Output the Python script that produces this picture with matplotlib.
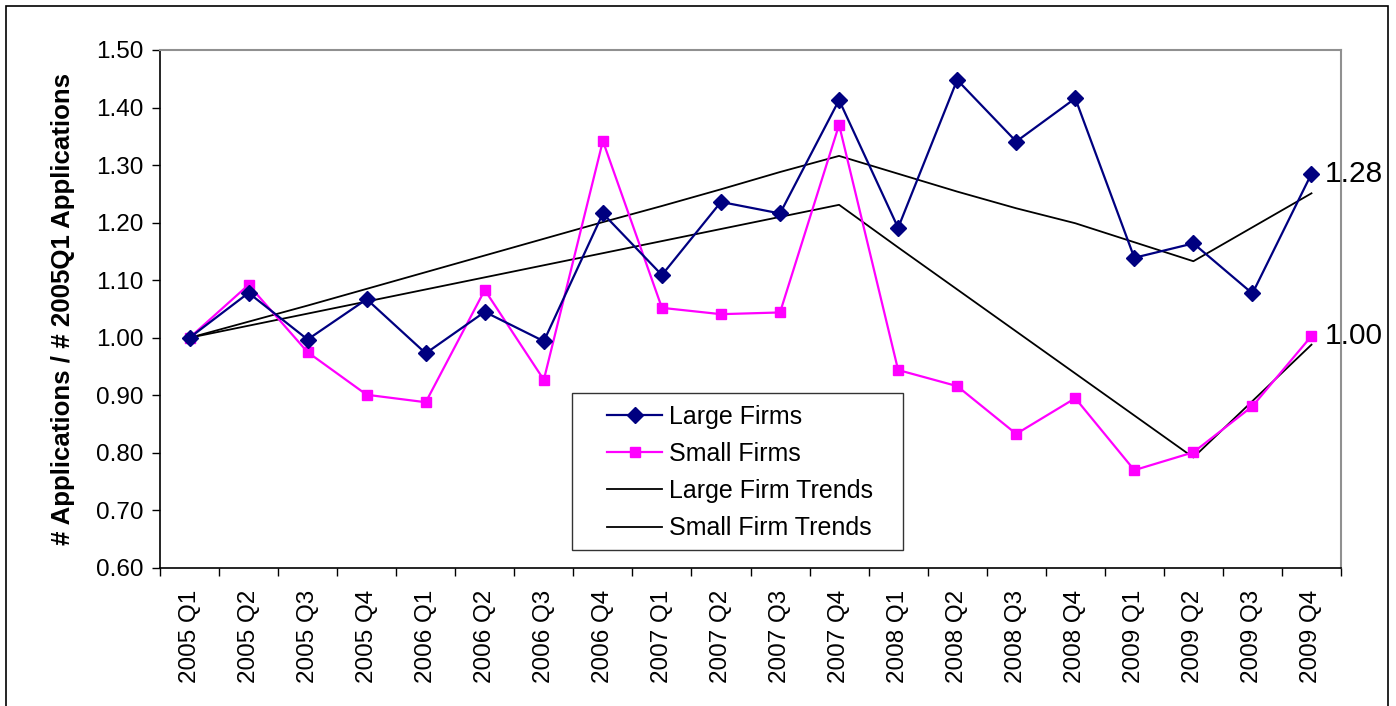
import matplotlib
matplotlib.use("Agg")
import matplotlib.pyplot as plt
from matplotlib.patches import Rectangle
from matplotlib.ticker import FixedLocator, NullFormatter

plt.rcParams['font.family'] = ['Liberation Sans', 'DejaVu Sans']

quarters = ["2005 Q1", "2005 Q2", "2005 Q3", "2005 Q4",
            "2006 Q1", "2006 Q2", "2006 Q3", "2006 Q4",
            "2007 Q1", "2007 Q2", "2007 Q3", "2007 Q4",
            "2008 Q1", "2008 Q2", "2008 Q3", "2008 Q4",
            "2009 Q1", "2009 Q2", "2009 Q3", "2009 Q4"]

large_firms = [1.000, 1.078, 0.997, 1.067, 0.973, 1.045, 0.994, 1.216,
               1.109, 1.236, 1.216, 1.413, 1.191, 1.448, 1.341, 1.416,
               1.139, 1.164, 1.077, 1.285]
small_firms = [1.000, 1.092, 0.975, 0.901, 0.888, 1.083, 0.927, 1.342,
               1.052, 1.041, 1.044, 1.370, 0.944, 0.916, 0.833, 0.895,
               0.770, 0.801, 0.881, 1.003]
large_trend = [1.000, 1.028, 1.056, 1.085, 1.114, 1.143, 1.172, 1.201,
               1.229, 1.258, 1.288, 1.316, 1.285, 1.254, 1.225, 1.199,
               1.166, 1.133, 1.192, 1.251]
small_trend = [1.000, 1.021, 1.042, 1.063, 1.084, 1.105, 1.126, 1.147,
               1.168, 1.189, 1.210, 1.231, 1.157, 1.084, 1.011, 0.938,
               0.865, 0.792, 0.890, 0.988]

end_labels = ["1.28", "1.00"]

W, H = 1396, 706
fig = plt.figure(figsize=(W / 100, H / 100), dpi=100)

# outer frame
fig.patches.append(Rectangle((6 / W, -0.02), (1388 - 6) / W, (H - 6) / H + 0.02,
                             transform=fig.transFigure, fill=False,
                             edgecolor='black', linewidth=1.2))

ax = fig.add_axes([160 / W, 1 - 568 / H, (1341 - 160) / W, (568 - 50) / H])

x = list(range(len(quarters)))
ax.plot(x, large_firms, color='#000080', marker='D', markersize=8,
        linewidth=1.6, label='Large Firms', zorder=4)
ax.plot(x, small_firms, color='#FF00FF', marker='s', markersize=7.5,
        linewidth=1.6, label='Small Firms', zorder=3)
ax.plot(x, large_trend, color='black', linewidth=1.3, label='Large Firm Trends', zorder=2)
ax.plot(x, small_trend, color='black', linewidth=1.3, label='Small Firm Trends', zorder=2)

ax.text(x[-1] + 0.22, large_firms[-1], end_labels[0], fontsize=21.5,
        va='center', ha='left', clip_on=False)
ax.text(x[-1] + 0.22, small_firms[-1], end_labels[1], fontsize=21.5,
        va='center', ha='left', clip_on=False)

ax.set_xlim(-0.5, len(quarters) - 0.5)
ax.set_ylim(0.60, 1.50)
yt = [0.60 + 0.1 * i for i in range(10)]
ax.set_yticks(yt)
ax.set_yticklabels([f"{v:.2f}" for v in yt], fontsize=17.5)

ax.set_xticks(x)
ax.set_xticklabels(quarters, rotation=90, fontsize=17.5)
ax.tick_params(axis='x', which='major', length=0, pad=16)
ax.xaxis.set_minor_locator(FixedLocator([i - 0.5 for i in range(len(quarters) + 1)]))
ax.xaxis.set_minor_formatter(NullFormatter())
ax.tick_params(axis='x', which='minor', length=6, width=1, direction='out')
ax.tick_params(axis='y', length=6, width=1, direction='out', pad=6)

ax.set_ylabel("# Applications / # 2005Q1 Applications", fontsize=18.6,
              fontweight='bold', family=['Liberation Sans Narrow', 'Liberation Sans'])
ax.yaxis.set_label_coords((75 - 160) / 1181, 0.5)

for s in ['top', 'right']:
    ax.spines[s].set_color('#909090')
    ax.spines[s].set_linewidth(1.5)
for s in ['left', 'bottom']:
    ax.spines[s].set_color('black')
    ax.spines[s].set_linewidth(1.2)

# legend frame drawn separately, legend content centred inside
ax.add_patch(Rectangle(((572 - 160) / 1181, (568 - 550) / 518), 331 / 1181, 157 / 518,
                       transform=ax.transAxes, fill=True, facecolor='white',
                       edgecolor='#333333', linewidth=1.0, zorder=5))
leg = ax.legend(loc='center', bbox_to_anchor=((740 - 160) / 1181, (568 - 472.5) / 518),
                fontsize=18, frameon=False, borderaxespad=0, borderpad=0,
                handlelength=2.2, handletextpad=0.25, labelspacing=0.53)
leg.set_zorder(6)

fig.savefig("out.png", dpi=100)
